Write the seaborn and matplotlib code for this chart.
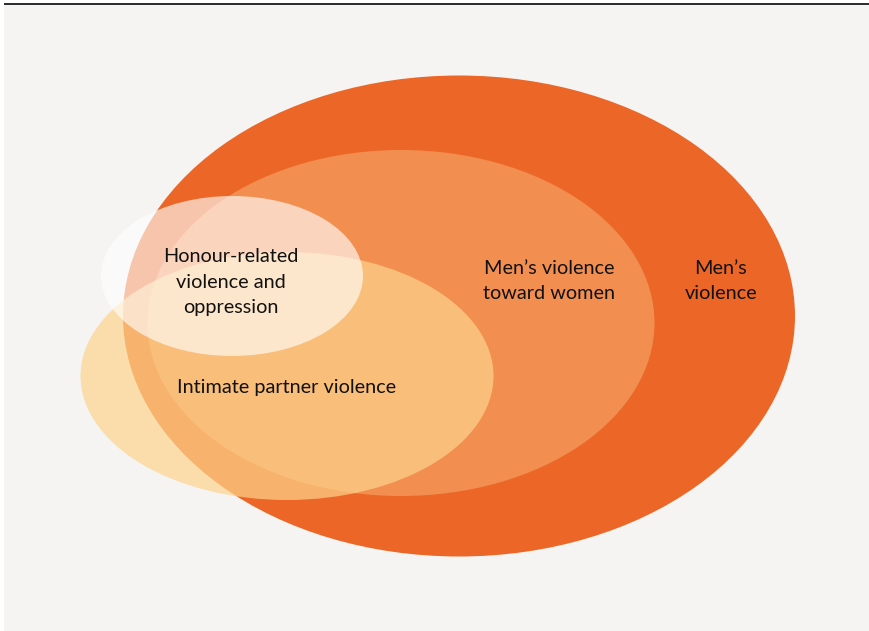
import matplotlib
matplotlib.use("Agg")
import matplotlib.pyplot as plt
from matplotlib.patches import Ellipse, Rectangle
import seaborn as sns

sns.set_style("white")
plt.rcParams["font.family"] = ["Lato", "DejaVu Sans"]

# sets of the diagram, drawn from largest to smallest (pixel space)
set_names = ["Men’s\nviolence", "Men’s violence\ntoward women",
             "Intimate partner violence", "Honour-related\nviolence and\noppression"]
set_cx = [459, 401, 287, 232]
set_cy = [316, 323, 376, 276]
set_w = [672, 507, 413, 262]
set_h = [481, 346, 248, 160]
set_colors = ["#EC6727", "#F28F50", "#FDD48C", "#FFFFFF"]
set_alpha = [1.0, 1.0, 0.7, 0.62]
label_x = [721, 549, 287, 231]
label_y = [281, 281, 388, 282]

fig = plt.figure(figsize=(8.7, 6.31), dpi=100)
fig.patch.set_facecolor("white")
ax = fig.add_axes([0, 0, 1, 1])
ax.set_xlim(0, 870)
ax.set_ylim(631, 0)
ax.axis("off")

# panel background and top rule
ax.add_patch(Rectangle((4, 4), 866, 627, facecolor="#F5F4F2", edgecolor="none", zorder=0))
ax.plot([4, 870], [3.6, 3.6], color="#1a1a1a", lw=1.3, zorder=1, solid_capstyle="butt")

for i in range(len(set_names)):
    ax.add_patch(Ellipse((set_cx[i], set_cy[i]), set_w[i], set_h[i],
                         facecolor=set_colors[i], alpha=set_alpha[i],
                         edgecolor="none", zorder=2 + i))

for i in range(len(set_names)):
    ax.text(label_x[i], label_y[i], set_names[i], ha="center", va="center",
            fontsize=14.3, color="#111111", linespacing=1.58, zorder=10)

fig.savefig("out.png", dpi=100, facecolor=fig.get_facecolor())
